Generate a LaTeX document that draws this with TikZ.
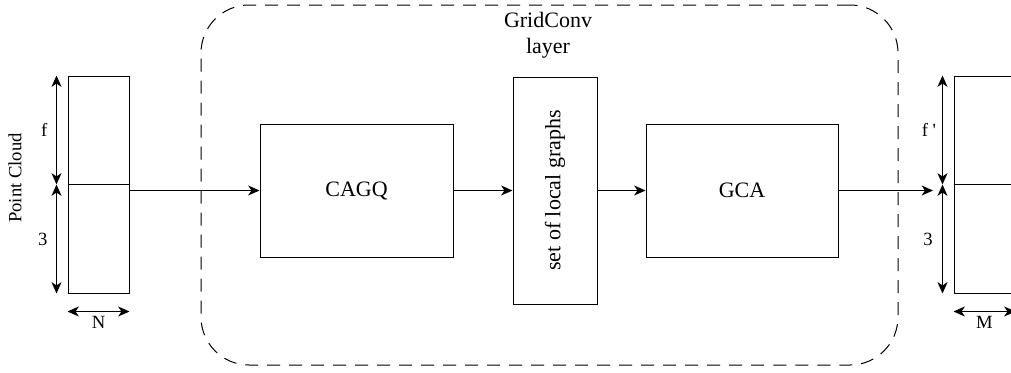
\documentclass[tikz,border=0pt]{standalone}
\usepackage{fontspec}
\setmainfont{Liberation Serif}
\usetikzlibrary{arrows.meta,positioning}
\tikzset{
  blockbox/.style={draw, line width=0.75pt, align=center, inner sep=0pt,
    font=\fontsize{16.5}{19.5}\selectfont},
  arr/.style={-{Stealth[length=8.5pt, width=7.5pt, inset=2.5pt]}, line width=0.75pt},
  dimarr/.style={{Stealth[length=8.5pt, width=7.5pt, inset=2.5pt]}-{Stealth[length=8.5pt, width=7.5pt, inset=2.5pt]}, line width=0.75pt},
  dimlabel/.style={font=\fontsize{14}{16}\selectfont, inner sep=0pt},
  layerframe/.style={draw, line width=0.75pt, dash pattern=on 9.75pt off 6.75pt,
    rounded corners=36pt}
}
\begin{document}
\begin{tikzpicture}[x=0.75pt, y=-0.75pt]
    \useasboundingbox (0,0) rectangle (1011,372);
    \clip (0,0) rectangle (1011,372);
    % GridConv frame
    \node[layerframe, minimum width=522.75pt, minimum height=270pt] (layer) at (549.5,185) {};
    \node[blockbox, draw=none] (title) at (548,35) {GridConv\\layer};
    % blocks
    \node[blockbox, minimum width=45.75pt, minimum height=162.75pt] (pc) at (98.5,184.5) {};
    \node[blockbox, minimum width=144.75pt, minimum height=99.75pt] (cagq) at (356.5,190.5) {CAGQ};
    \node[blockbox, rotate=90, minimum width=170.25pt, minimum height=63pt] (graphs) at (555,190.5) {set of local graphs};
    \node[blockbox, minimum width=144pt, minimum height=99.75pt] (gca) at (742,190.5) {GCA};
    \node[blockbox, minimum width=45.75pt, minimum height=162.75pt] (out) at (984.5,184.5) {};
    \draw[line width=0.75pt] (pc.west) -- (pc.east);
    \draw[line width=0.75pt] (out.west) -- (out.east);
    \coordinate (outtip) at (933,190.5);
    \draw[arr] (pc.east |- cagq) -- (cagq);
    \draw[arr] (cagq) -- (graphs);
    \draw[arr] (graphs) -- (gca);
    \draw[arr] (gca) -- (outtip);
    % dimensions
    \node[dimlabel, rotate=90] (pclabel) at (15,178) {Point Cloud};
    \draw[dimarr] ([xshift=-8.25pt]pc.north west) -- node[dimlabel, left=6.5pt] {f} ([xshift=-8.25pt]pc.west);
    \draw[dimarr] ([xshift=-8.25pt]pc.west) -- node[dimlabel, left=6.5pt] {3} ([xshift=-8.25pt]pc.south west);
    \draw[dimarr] ([yshift=-13.5pt]pc.south west) -- node[dimlabel, below=3pt] {N} ([yshift=-13.5pt]pc.south east);
    \draw[dimarr] ([xshift=-8.25pt]out.north west) -- node[dimlabel, left=4.5pt] {f \textquotesingle} ([xshift=-8.25pt]out.west);
    \draw[dimarr] ([xshift=-8.25pt]out.west) -- node[dimlabel, left=7pt] {3} ([xshift=-8.25pt]out.south west);
    \draw[dimarr] ([yshift=-13.5pt]out.south west) -- node[dimlabel, below=3pt] {M} ([yshift=-13.5pt]out.south east);
  \end{tikzpicture}
\end{document}
